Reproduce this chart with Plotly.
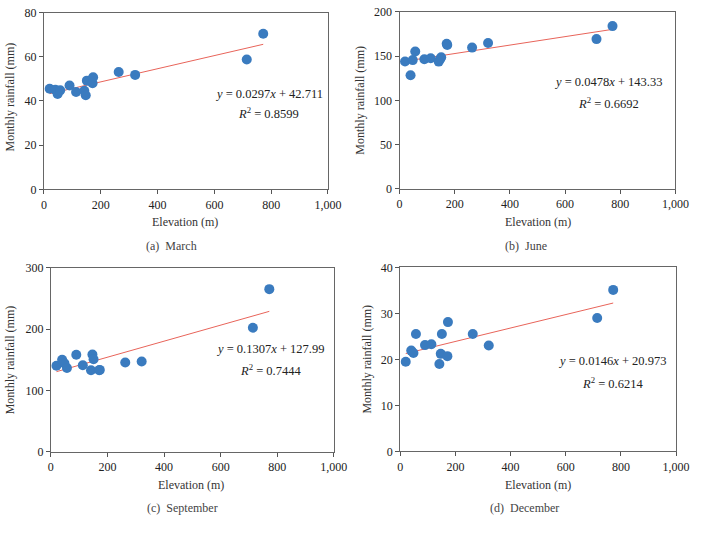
import plotly.graph_objects as go
from plotly.subplots import make_subplots

# ---- data ----
elevation = [20, 40, 48, 57, 90, 113, 142, 147, 151, 171, 173, 263, 321, 714, 772]
march = [45.5, 45.1, 43.2, 44.8, 47.0, 44.1, 44.6, 42.6, 49.2, 48.0, 50.7, 53.1, 51.8, 58.8, 70.4]
june = [143.9, 128.4, 145.5, 155.2, 146.4, 147.6, 143.8, 146.5, 148.6, 164.0, 162.5, 159.6, 164.8, 169.2, 183.9]
september = [140.3, 150.0, 144.4, 136.5, 158.2, 141.2, 132.8, 158.7, 150.8, 132.8, 133.5, 145.5, 147.1, 202.1, 265.1]
december = [19.5, 21.9, 21.4, 25.5, 23.1, 23.3, 19.0, 21.2, 25.5, 20.7, 28.1, 25.5, 23.0, 29.0, 35.1]

slopes = [0.0297, 0.0478, 0.1307, 0.0146]
intercepts = [42.711, 143.33, 127.99, 20.973]
r2 = ["0.8599", "0.6692", "0.7444", "0.6214"]
eq_text = ["0.0297", "0.0478", "0.1307", "0.0146"]
ic_text = ["42.711", "143.33", "127.99", "20.973"]
captions = ["(a)  March", "(b)  June", "(c)  September", "(d)  December"]
y_ranges = [[0, 80], [0, 200], [0, 300], [0, 40]]
y_dticks = [20, 50, 100, 10]
x_ticks = [0, 200, 400, 600, 800, 1000]
series = [march, june, september, december]

# annotation anchor positions (data coords)
eq_pos = [(791, 43.3, 34.5), (758, 121, 96.5), (776, 168, 133.3), (771, 19.6, 14.9)]

W, H = 706, 537
# plot areas in pixels: (x0, x1, ytop, ybottom)
areas = [(42, 333, 5.7, 187.3), (406.3, 689, 5, 186.7),
         (49, 339, 267.7, 456.7), (407, 689.7, 267.3, 456.3)]
ytitle_pos = [(7, 92), (366, 96), (7.5, 362.5), (373, 362)]
xtitle_pos = [(187, 221), (548, 221), (193, 490.7), (548, 490.7)]
cap_pos = [(173, 245), (536, 245), (184, 514), (534, 514)]

FONT = "Liberation Serif"
blue = "#3A7BBF"
red = "#E8645A"

fig = make_subplots(rows=2, cols=2)
annotations = []
for i in range(4):
    r, c = i // 2 + 1, i % 2 + 1
    x0 = min(elevation); x1 = max(elevation)
    fig.add_trace(go.Scatter(x=[x0, x1],
                             y=[slopes[i] * x0 + intercepts[i], slopes[i] * x1 + intercepts[i]],
                             mode="lines", line=dict(color=red, width=1), showlegend=False),
                  row=r, col=c)
    fig.add_trace(go.Scatter(x=elevation, y=series[i], mode="markers",
                             marker=dict(color=blue, size=10), showlegend=False),
                  row=r, col=c)
    ax0, ax1, yt, yb = areas[i]
    sfx = "" if i == 0 else str(i + 1)
    fig.layout["xaxis" + sfx].update(
        domain=[ax0 / W, ax1 / W], range=[0, 1000], tickvals=x_ticks,
        separatethousands=True, ticks="outside", ticklen=4, tickcolor="#555",
        showline=True, linecolor="#666", linewidth=1, mirror=True,
        showgrid=False, zeroline=False,
        tickfont=dict(family=FONT, size=12, color="#222"))
    fig.layout["yaxis" + sfx].update(
        domain=[1 - yb / H, 1 - yt / H], range=y_ranges[i], dtick=y_dticks[i],
        ticks="outside", ticklen=4, tickcolor="#555",
        showline=True, linecolor="#666", linewidth=1, mirror=True,
        showgrid=False, zeroline=False,
        tickfont=dict(family=FONT, size=12, color="#222"))
    xref = "x" + sfx if sfx else "x"
    yref = "y" + sfx if sfx else "y"
    ex, ey, ry = eq_pos[i]
    annotations.append(dict(x=ex, y=ey, xref=xref, yref=yref, showarrow=False,
                            xanchor="center", yanchor="middle",
                            text="<i>y</i> = " + eq_text[i] + "<i>x</i> + " + ic_text[i],
                            font=dict(family=FONT, size=12.5, color="#222")))
    annotations.append(dict(x=ex, y=ry, xref=xref, yref=yref, showarrow=False,
                            xanchor="center", yanchor="middle",
                            text="<i>R</i><sup>2</sup> = " + r2[i],
                            font=dict(family=FONT, size=12.5, color="#222")))
    tx, ty = ytitle_pos[i]
    annotations.append(dict(x=tx / W, y=1 - ty / H, xref="paper", yref="paper",
                            xanchor="center", yanchor="middle",
                            showarrow=False, textangle=-90, text="Monthly rainfall (mm)",
                            font=dict(family=FONT, size=12, color="#333")))
    tx, ty = xtitle_pos[i]
    annotations.append(dict(x=tx / W, y=1 - ty / H, xref="paper", yref="paper",
                            xanchor="center", yanchor="middle",
                            showarrow=False, text="Elevation (m)",
                            font=dict(family=FONT, size=12, color="#333")))
    tx, ty = cap_pos[i]
    annotations.append(dict(x=tx / W, y=1 - ty / H, xref="paper", yref="paper",
                            xanchor="center", yanchor="middle",
                            showarrow=False, text=captions[i],
                            font=dict(family=FONT, size=12, color="#444")))

fig.update_layout(width=W, height=H, margin=dict(l=0, r=0, t=0, b=0),
                  paper_bgcolor="white", plot_bgcolor="white",
                  annotations=annotations, showlegend=False)
fig.write_html("out.html")
